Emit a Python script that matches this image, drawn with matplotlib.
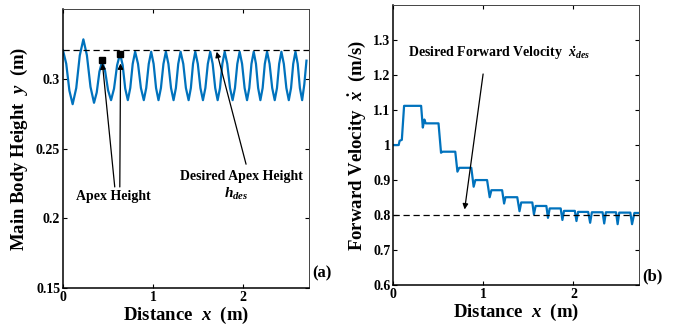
import matplotlib
matplotlib.use("Agg")
import matplotlib.pyplot as plt

plt.rcParams['font.family'] = ['Liberation Serif', 'DejaVu Serif']
plt.rcParams['font.weight'] = 'bold'
plt.rcParams['axes.labelweight'] = 'bold'
plt.rcParams['mathtext.fontset'] = 'custom'
plt.rcParams['mathtext.rm'] = 'Liberation Serif:bold'
plt.rcParams['mathtext.it'] = 'Liberation Serif:italic:bold'
plt.rcParams['mathtext.bf'] = 'Liberation Serif:bold'

BLUE = '#0072BD'

# (a) altura del cuerpo
dist_a = [0.000, 0.036, 0.071, 0.107, 0.147, 0.186, 0.226, 0.265, 0.305, 0.344,
          0.374, 0.404, 0.434, 0.467, 0.500, 0.533, 0.566, 0.600, 0.633, 0.662,
          0.690, 0.719, 0.746, 0.773, 0.800, 0.832, 0.864, 0.896, 0.923, 0.951,
          0.978, 1.005, 1.032, 1.059, 1.086, 1.114, 1.141, 1.169, 1.198, 1.226,
          1.252, 1.278, 1.304, 1.334, 1.363, 1.393, 1.418, 1.442, 1.467, 1.495,
          1.524, 1.552, 1.579, 1.606, 1.633, 1.660, 1.688, 1.715, 1.741, 1.767,
          1.793, 1.822, 1.852, 1.881, 1.907, 1.933, 1.959, 1.986, 2.014, 2.041,
          2.066, 2.090, 2.115, 2.140, 2.164, 2.189, 2.214, 2.238, 2.263, 2.291,
          2.320, 2.348, 2.373, 2.397, 2.422, 2.449, 2.477, 2.504, 2.529, 2.553,
          2.578, 2.603, 2.627, 2.652, 2.676, 2.700]
altura = [0.3204, 0.3108, 0.2915, 0.2818, 0.2934, 0.3167, 0.3283, 0.3169, 0.2942, 0.2828,
          0.2902, 0.3051, 0.3125, 0.3056, 0.2917, 0.2847, 0.2930, 0.3097, 0.3180, 0.3097,
          0.2930, 0.2847, 0.2934, 0.3107, 0.3194, 0.3107, 0.2934, 0.2847, 0.2934, 0.3107,
          0.3194, 0.3107, 0.2934, 0.2847, 0.2934, 0.3107, 0.3194, 0.3107, 0.2934, 0.2847,
          0.2934, 0.3107, 0.3194, 0.3107, 0.2934, 0.2847, 0.2934, 0.3107, 0.3194, 0.3107,
          0.2934, 0.2847, 0.2934, 0.3107, 0.3194, 0.3107, 0.2934, 0.2847, 0.2934, 0.3107,
          0.3194, 0.3107, 0.2934, 0.2847, 0.2934, 0.3107, 0.3194, 0.3107, 0.2934, 0.2847,
          0.2934, 0.3107, 0.3194, 0.3107, 0.2934, 0.2847, 0.2934, 0.3107, 0.3194, 0.3107,
          0.2934, 0.2847, 0.2934, 0.3107, 0.3194, 0.3107, 0.2934, 0.2847, 0.2934, 0.3107,
          0.3194, 0.3107, 0.2934, 0.2847, 0.2960, 0.3130]
apex_x = [0.437, 0.636]
apex_y = [0.3134, 0.3175]
h_des = 0.321

# (b) velocidad de avance
dist_b = [0.000, 0.060, 0.070, 0.095, 0.120, 0.309, 0.328, 0.345, 0.360, 0.502,
          0.530, 0.546, 0.688, 0.712, 0.732, 0.866, 0.892, 0.911, 1.041, 1.070,
          1.089, 1.208, 1.230, 1.245, 1.376, 1.401, 1.420, 1.543, 1.561, 1.580,
          1.699, 1.717, 1.736, 1.858, 1.877, 1.895, 2.015, 2.033, 2.051, 2.163,
          2.185, 2.204, 2.323, 2.341, 2.360, 2.472, 2.490, 2.508, 2.631, 2.650,
          2.676, 2.731]
velocidad = [1.000, 1.000, 1.012, 1.015, 1.112, 1.112, 1.050, 1.073, 1.062, 1.062,
             0.978, 0.981, 0.981, 0.924, 0.935, 0.935, 0.881, 0.900, 0.900, 0.851,
             0.871, 0.871, 0.833, 0.851, 0.851, 0.811, 0.836, 0.836, 0.802, 0.826,
             0.826, 0.792, 0.819, 0.819, 0.786, 0.812, 0.812, 0.783, 0.809, 0.809,
             0.778, 0.808, 0.808, 0.776, 0.808, 0.808, 0.774, 0.807, 0.807, 0.774,
             0.806, 0.806]
v_des = 0.8

yticks_a = [0.15, 0.2, 0.25, 0.3]
ytick_labels_a = ['0.15', '0.2', '0.25', '0.3']
yticks_b = [0.6, 0.7, 0.8, 0.9, 1.0, 1.1, 1.2, 1.3]
ytick_labels_b = ['0.6', '0.7', '0.8', '0.9', '1', '1.1', '1.2', '1.3']
xticks = [0, 1, 2]


def estilo(ax):
    ax.tick_params(direction='in', top=True, right=True, length=3,
                   labelsize=10, pad=2, width=0.8)
    for s in ['top', 'right']:
        ax.spines[s].set_color('#444444')
        ax.spines[s].set_linewidth(0.7)
    for s in ['left', 'bottom']:
        ax.spines[s].set_linewidth(1.1)
    ax.set_xticks(xticks)
    ax.set_xlim(0, 2.73)
    ax.set_xlabel('Distance  $x$  (m)', fontsize=13.5, labelpad=1)


flecha = dict(arrowstyle='-|>', color='k', lw=0.9, mutation_scale=8,
              shrinkA=0, shrinkB=0)

fig = plt.figure(figsize=(6.81, 3.35), dpi=100)

ax1 = fig.add_axes([0.0925, 0.140, 0.3615, 0.833])
ax1.plot(dist_a, altura, color=BLUE, lw=1.6)
ax1.axhline(h_des, color='k', lw=0.9, ls=(0, (5, 3)))
ax1.plot(apex_x, apex_y, 's', color='k', ms=4)
ax1.set_ylim(0.15, 0.35)
ax1.set_yticks(yticks_a)
ax1.set_yticklabels(ytick_labels_a)
estilo(ax1)
ax1.set_ylabel('Main Body Height  $y$  (m)', fontsize=13.5, labelpad=4)
ax1.annotate('', xy=(apex_x[0], 0.311), xytext=(0.574, 0.2225), arrowprops=flecha)
ax1.annotate('', xy=(0.638, 0.311), xytext=(0.630, 0.2225), arrowprops=flecha)
ax1.text(0.563, 0.2159, 'Apex Height', fontsize=10, ha='center', va='center')
ax1.annotate('', xy=(1.704, 0.3194), xytext=(2.03, 0.2388), arrowprops=flecha)
ax1.text(1.982, 0.230, 'Desired Apex Height', fontsize=10, ha='center', va='center')
ax1.text(1.926, 0.2175, r'$h_{des}$', fontsize=11, ha='center', va='center')
fig.text(0.459, 0.185, '(a)', fontsize=12, ha='left', va='center')

ax2 = fig.add_axes([0.5775, 0.149, 0.3612, 0.836])
ax2.plot(dist_b, velocidad, color=BLUE, lw=1.6)
ax2.axhline(v_des, color='k', lw=0.9, ls=(0, (5, 3)))
ax2.set_ylim(0.6, 1.4)
ax2.set_yticks(yticks_b)
ax2.set_yticklabels(ytick_labels_b)
estilo(ax2)
ax2.set_ylabel(r'Forward Velocity  $\dot{x}$  (m/s)', fontsize=13.5, labelpad=4)
ax2.annotate('', xy=(0.792, 0.816), xytext=(0.997, 1.203), arrowprops=flecha)
ax2.text(0.164, 1.263, r'Desired Forward Velocity  $\dot{x}_{des}$', fontsize=10,
         ha='left', va='center')
fig.text(0.943, 0.174, '(b)', fontsize=12, ha='left', va='center')

fig.savefig('out.png', dpi=100)
